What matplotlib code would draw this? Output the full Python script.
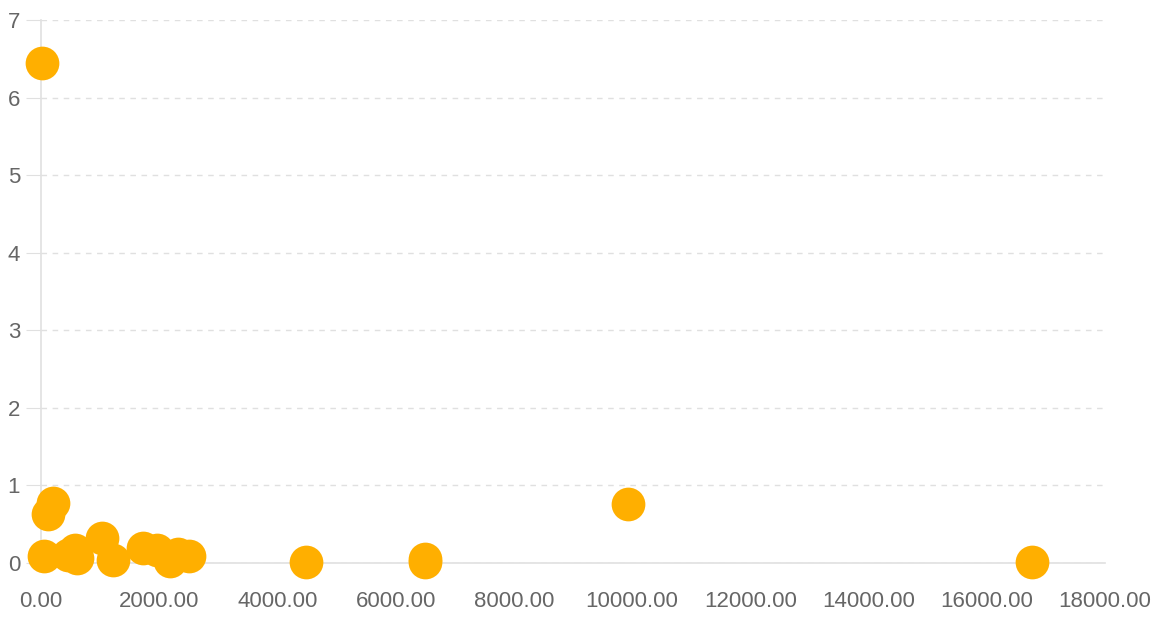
import matplotlib.pyplot as plt
from matplotlib.ticker import FormatStrFormatter

# data
x_vals = [20, 124, 208, 56, 462, 575, 615, 1037, 1224, 1731, 1957, 2182, 2323, 2510,
          4483, 6490, 6500, 9931, 16765]
y_vals = [6.45, 0.63, 0.77, 0.09, 0.10, 0.17, 0.06, 0.32, 0.04, 0.19, 0.17, 0.02, 0.12, 0.09,
          0.01, 0.05, 0.01, 0.76, 0.01]

x_ticks = list(range(0, 18001, 2000))
y_ticks = list(range(0, 8))

plt.rcParams['font.family'] = ['Liberation Sans', 'DejaVu Sans']

fig = plt.figure(figsize=(11.6, 6.2), dpi=100)
ax = fig.add_axes([41 / 1160, 1 - 563 / 620, (1105 - 41) / 1160, (563 - 20) / 620])

ax.scatter(x_vals, y_vals, s=590, color='#ffaf00', zorder=3, clip_on=False, linewidths=0)

ax.set_xlim(0, 18000)
ax.set_ylim(0, 7)
ax.set_xticks(x_ticks)
ax.set_yticks(y_ticks)
ax.xaxis.set_major_formatter(FormatStrFormatter('%.2f'))

ax.grid(axis='y', color='#e0e0e0', linestyle=(0, (4, 4)), linewidth=1)
ax.set_axisbelow(True)

for side in ['top', 'right']:
    ax.spines[side].set_visible(False)
for side in ['left', 'bottom']:
    ax.spines[side].set_color('#e0e0e0')
    ax.spines[side].set_linewidth(1.2)

ax.tick_params(axis='y', length=11, color='#e0e0e0', labelsize=16, labelcolor='#666666', pad=4)
ax.tick_params(axis='x', length=0, labelsize=16, labelcolor='#666666', pad=20)

fig.savefig('out.png', dpi=100)
